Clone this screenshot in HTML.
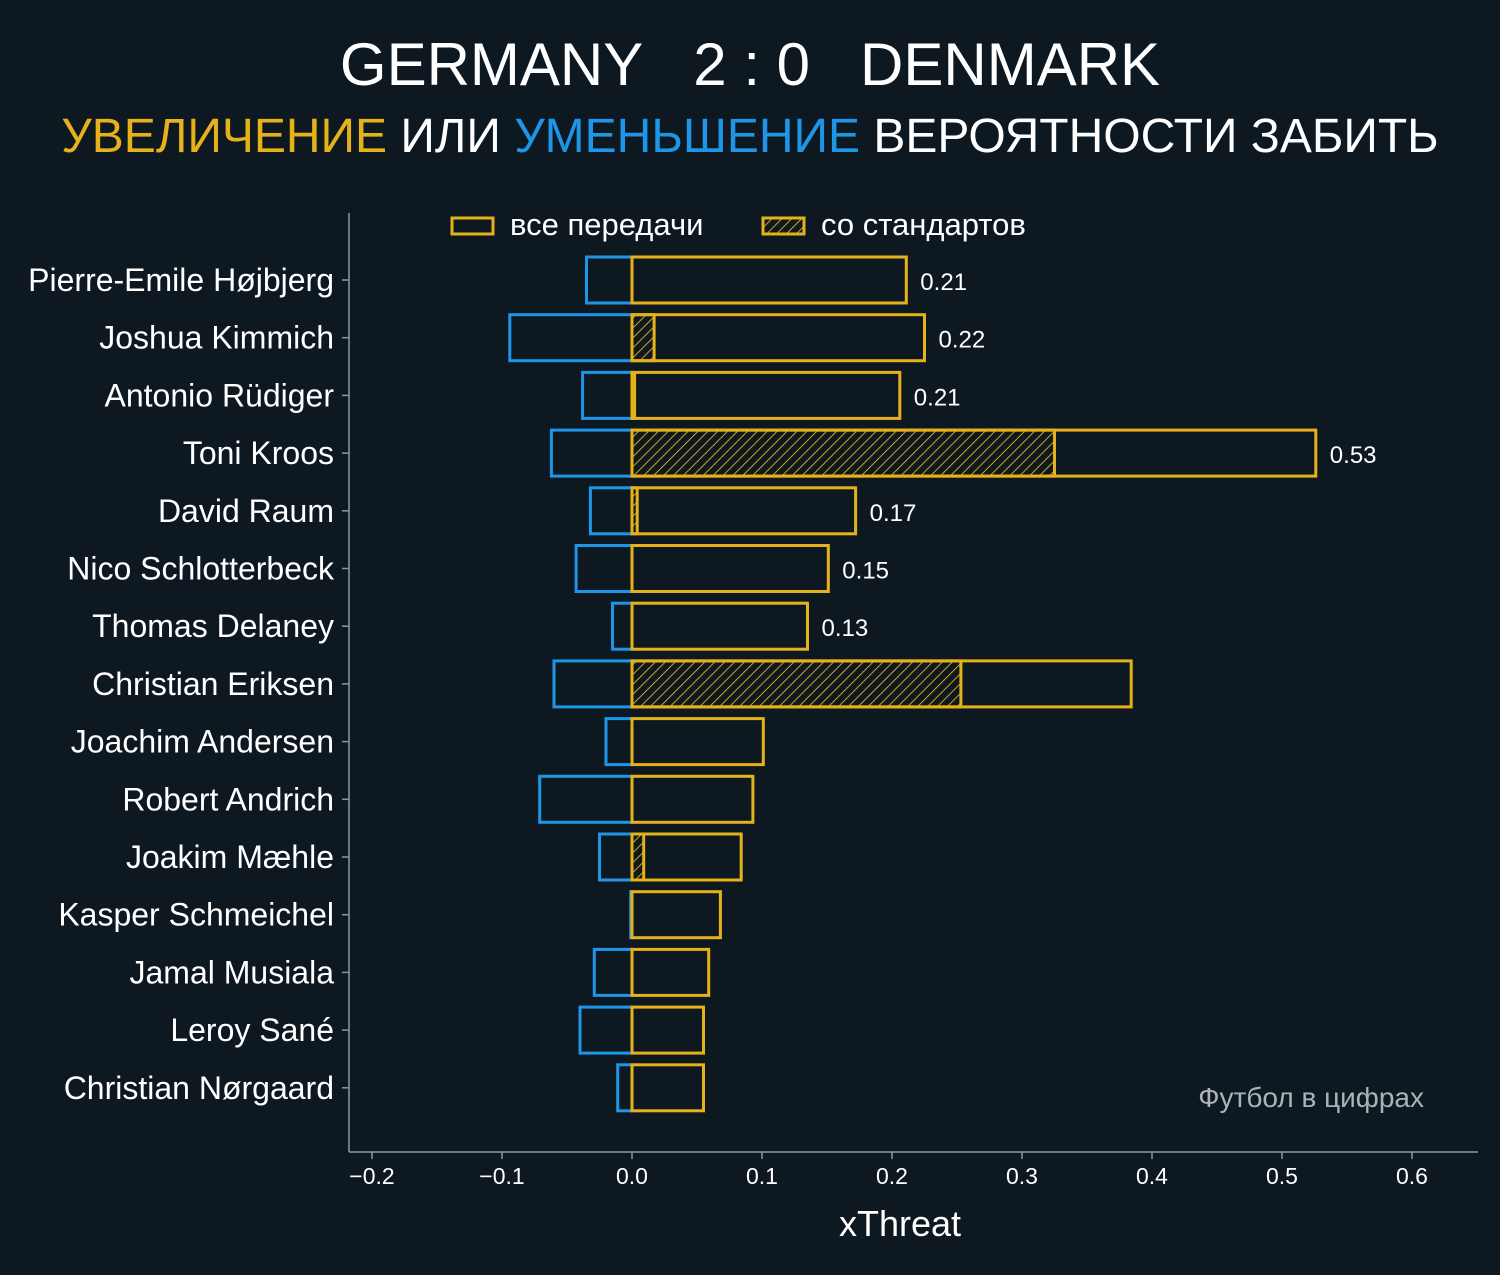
<!DOCTYPE html>
<html><head><meta charset="utf-8"><style>
html,body{margin:0;padding:0;background:#0e1821;}
svg{display:block;font-family:"Liberation Sans","DejaVu Sans",sans-serif;}
</style></head><body>
<svg id="chart" width="1500" height="1275" xmlns="http://www.w3.org/2000/svg">
<defs>
<pattern id="hatch" patternUnits="userSpaceOnUse" width="7" height="7" patternTransform="rotate(45)">
<line x1="0" y1="0" x2="0" y2="7" stroke="#e6b21a" stroke-width="1.8"/>
</pattern>
</defs>
<rect width="1500" height="1275" fill="#0e1821"/>
<text x="750" y="85" text-anchor="middle" font-size="60" fill="#ffffff">GERMANY&#160;&#160;&#160;2 : 0&#160;&#160;&#160;DENMARK</text>
<text x="750" y="152" text-anchor="middle" font-size="48" fill="#ffffff"><tspan fill="#e6b21a">УВЕЛИЧЕНИЕ</tspan> ИЛИ <tspan fill="#1e96e8">УМЕНЬШЕНИЕ</tspan> ВЕРОЯТНОСТИ ЗАБИТЬ</text>
<g>
<rect x="452" y="218" width="41" height="16" fill="none" stroke="#e6b21a" stroke-width="3"/>
<text x="510" y="235" font-size="31" fill="#ffffff">все передачи</text>
<rect x="763" y="218" width="41" height="16" fill="url(#hatch)" stroke="#e6b21a" stroke-width="3"/>
<text x="821" y="235" font-size="31" fill="#ffffff">со стандартов</text>
</g>
<line x1="349" y1="213" x2="349" y2="1152" stroke="#8a9a9a" stroke-width="1.5"/>
<line x1="349" y1="1152" x2="1478" y2="1152" stroke="#8a9a9a" stroke-width="1.5"/>
<g id="marks"></g>
<text x="900" y="1236" text-anchor="middle" font-size="36" fill="#ffffff">xThreat</text>
<text x="1424" y="1107" text-anchor="end" font-size="28" fill="#aab4b8">Футбол в цифрах</text>
</svg>
<script>
const players = ["Pierre-Emile Højbjerg","Joshua Kimmich","Antonio Rüdiger","Toni Kroos","David Raum","Nico Schlotterbeck","Thomas Delaney","Christian Eriksen","Joachim Andersen","Robert Andrich","Joakim Mæhle","Kasper Schmeichel","Jamal Musiala","Leroy Sané","Christian Nørgaard"];
const positiveXT = [0.211,0.225,0.206,0.526,0.172,0.151,0.135,0.384,0.101,0.093,0.084,0.068,0.059,0.055,0.055];
const negativeXT = [-0.035,-0.094,-0.038,-0.062,-0.032,-0.043,-0.015,-0.060,-0.020,-0.071,-0.025,-0.001,-0.029,-0.040,-0.011];
const setPieceXT = [0,0.017,0.002,0.325,0.004,0,0,0.253,0,0,0.009,0,0,0,0];
const valueLabels = ["0.21","0.22","0.21","0.53","0.17","0.15","0.13","","","","","","","",""];
const xTicks = [-0.2,-0.1,0.0,0.1,0.2,0.3,0.4,0.5,0.6];
const xTickLabels = ["−0.2","−0.1","0.0","0.1","0.2","0.3","0.4","0.5","0.6"];

const NS="http://www.w3.org/2000/svg";
const g=document.getElementById("marks");
const xs=v=>632+v*1300;
const ys=i=>280+i*57.7;
const BH=46;
function mk(tag,attrs,parent){const e=document.createElementNS(NS,tag);for(const k in attrs)e.setAttribute(k,attrs[k]);(parent||g).appendChild(e);return e;}
players.forEach((p,i)=>{
  const y=ys(i);
  const t=mk("text",{x:334,y:y+11,"text-anchor":"end","font-size":32,fill:"#ffffff"});
  t.textContent=p;
  
  
  const tk=mk("line",{x1:342,x2:349,y1:y,y2:y,stroke:"#8a9a9a","stroke-width":1.5});
  
  
  const n=mk("rect",{x:xs(negativeXT[i]),y:y-BH/2,width:xs(0)-xs(negativeXT[i]),height:BH,fill:"none",stroke:"#1e96e8","stroke-width":3});
  
  
  if(setPieceXT[i]>0){
    const s=mk("rect",{x:xs(0),y:y-BH/2,width:xs(setPieceXT[i])-xs(0),height:BH,fill:"url(#hatch)",stroke:"#e6b21a","stroke-width":3});
    
    
  }
  const b=mk("rect",{x:xs(0),y:y-BH/2,width:xs(positiveXT[i])-xs(0),height:BH,fill:"none",stroke:"#e6b21a","stroke-width":3});
  
  
  if(valueLabels[i]){
    const v=mk("text",{x:xs(positiveXT[i])+14,y:y+10,"font-size":24,fill:"#ffffff"});
    v.textContent=valueLabels[i];
    
    
  }
});
xTicks.forEach((v,i)=>{
  const l=mk("line",{x1:xs(v),x2:xs(v),y1:1152,y2:1159,stroke:"#8a9a9a","stroke-width":1.5});
  
  
  const t=mk("text",{x:xs(v),y:1184,"text-anchor":"middle","font-size":23,fill:"#ffffff"});
  t.textContent=xTickLabels[i];
  
  
});
</script>
</body></html>
